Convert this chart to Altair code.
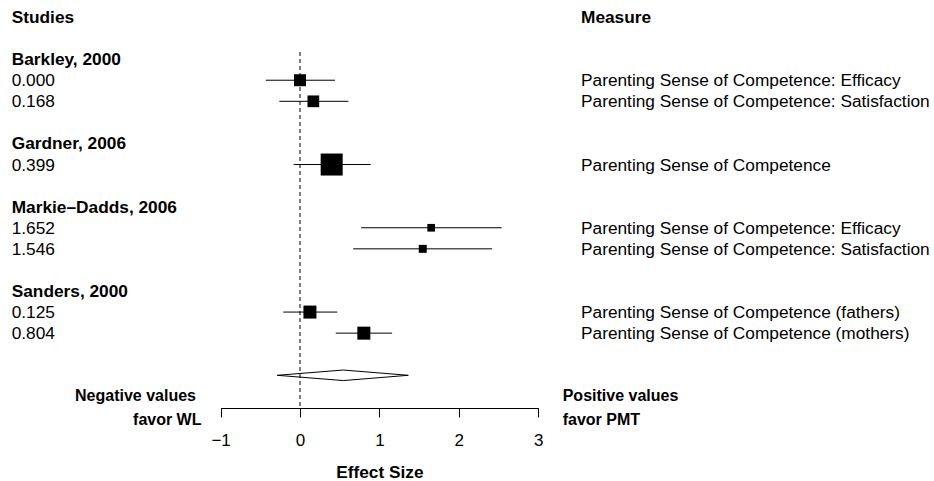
import altair as alt
import pandas as pd

FONT = "Liberation Sans, Arial, Helvetica, sans-serif"
FS = 17.3

# ---------------- data ----------------
study_names = ["Barkley, 2000", "Gardner, 2006", "Markie–Dadds, 2006", "Sanders, 2000"]
study_of_effect = [0, 0, 1, 2, 2, 3, 3]
effect_sizes = [0.000, 0.168, 0.399, 1.652, 1.546, 0.125, 0.804]
ci_lower = [-0.43, -0.26, -0.08, 0.77, 0.67, -0.21, 0.45]
ci_upper = [0.44, 0.61, 0.89, 2.54, 2.42, 0.47, 1.16]
weights = [11.7, 11.2, 39.5, 4.8, 5.2, 13.8, 13.8]
measures = [
    "Parenting Sense of Competence: Efficacy",
    "Parenting Sense of Competence: Satisfaction",
    "Parenting Sense of Competence",
    "Parenting Sense of Competence: Efficacy",
    "Parenting Sense of Competence: Satisfaction",
    "Parenting Sense of Competence (fathers)",
    "Parenting Sense of Competence (mothers)",
]
summary_es = 0.545
summary_lo = -0.286
summary_hi = 1.364
x_ticks = [-1, 0, 1, 2, 3]

# ---------------- row layout ----------------
row = 2
header_rows = []
effect_rows = [None] * len(effect_sizes)
for s, name in enumerate(study_names):
    header_rows.append(row)
    row += 1
    for i, st in enumerate(study_of_effect):
        if st == s:
            effect_rows[i] = row
            row += 1
    row += 1
summary_row = row

effects = pd.DataFrame({
    "es": effect_sizes,
    "lo": ci_lower,
    "hi": ci_upper,
    "w": weights,
    "measure": measures,
    "label": [f"{v:.3f}" for v in effect_sizes],
    "row": effect_rows,
})
headers = pd.DataFrame({"name": study_names, "row": header_rows})
diamond = pd.DataFrame({
    "x": [summary_lo, summary_es, summary_hi, summary_es, summary_lo],
    "row": [summary_row, summary_row - 0.25, summary_row, summary_row + 0.25, summary_row],
    "ord": [0, 1, 2, 3, 4],
})
col_heads = pd.DataFrame({"row": [0]})

# ---------------- scales / axes ----------------
xscale = alt.Scale(domain=[-1, 3], range=[220.6, 538.2], zero=False, nice=False)
yscale = alt.Scale(domain=[0, summary_row], range=[17, 375.3], zero=False, nice=False)
xaxis = alt.Axis(
    values=x_ticks, title="Effect Size", grid=False,
    domainColor="black", domainWidth=1, tickColor="black", tickWidth=1, tickSize=9,
    labelFont=FONT, labelFontSize=17, labelColor="black", labelBaseline="alphabetic",
    labelPadding=28.8, labelFlush=False, labelOverlap=False,
    titleFont=FONT, titleFontSize=FS, titleFontWeight="bold", titleColor="black",
    titleBaseline="alphabetic", titleY=69.9,
)


def X(field):
    return alt.X(field, type="quantitative", scale=xscale, axis=xaxis)


def Y(field="row"):
    return alt.Y(field, type="quantitative", scale=yscale, axis=None)


base_fx = alt.Chart(effects)

ci = base_fx.mark_rule(color="black", strokeWidth=1).encode(x=X("lo"), x2="hi", y=Y())
boxes = base_fx.mark_square(color="black", opacity=1, filled=True).encode(
    x=X("es"), y=Y(),
    size=alt.Size("w", type="quantitative",
                  scale=alt.Scale(domain=[0, 39.5], range=[0, 484]), legend=None),
)
zero_line = alt.Chart(col_heads).mark_rule(
    color="black", strokeWidth=1, strokeDash=[4, 3]
).encode(x=alt.X(datum=0, type="quantitative", scale=xscale, axis=xaxis),
         y=alt.value(52), y2=alt.value(408))

diam = alt.Chart(diamond).mark_line(color="black", strokeWidth=1).encode(
    x=X("x"), y=Y(), order="ord"
)

txt = dict(font=FONT, fontSize=FS, color="black", baseline="middle", dy=1)
txt_small = dict(font=FONT, fontSize=16, color="black", baseline="middle", dy=1)

studies_head = alt.Chart(col_heads).mark_text(align="left", fontWeight="bold", **txt).encode(
    x=alt.value(11.7), y=Y(), text=alt.value("Studies"))
measure_head = alt.Chart(col_heads).mark_text(align="left", fontWeight="bold", **txt).encode(
    x=alt.value(581), y=Y(), text=alt.value("Measure"))
study_lbl = alt.Chart(headers).mark_text(align="left", fontWeight="bold", **txt).encode(
    x=alt.value(11.7), y=Y(), text="name")
es_lbl = base_fx.mark_text(align="left", **txt).encode(
    x=alt.value(11.7), y=Y(), text="label")
meas_lbl = base_fx.mark_text(align="left", **txt).encode(
    x=alt.value(581), y=Y(), text="measure")

neg1 = alt.Chart(col_heads).mark_text(align="right", fontWeight="bold", **txt_small).encode(
    x=alt.value(196), y=alt.value(395), text=alt.value("Negative values"))
neg2 = alt.Chart(col_heads).mark_text(align="right", fontWeight="bold", **txt_small).encode(
    x=alt.value(201.5), y=alt.value(419), text=alt.value("favor WL"))
pos1 = alt.Chart(col_heads).mark_text(align="left", fontWeight="bold", **txt_small).encode(
    x=alt.value(562.7), y=alt.value(395), text=alt.value("Positive values"))
pos2 = alt.Chart(col_heads).mark_text(align="left", fontWeight="bold", **txt_small).encode(
    x=alt.value(562.7), y=alt.value(419), text=alt.value("favor PMT"))

chart = alt.layer(
    zero_line, ci, boxes, diam,
    studies_head, measure_head, study_lbl, es_lbl, meas_lbl,
    neg1, neg2, pos1, pos2,
).properties(
    width=934, height=408,
    autosize=alt.AutoSizeParams(type="none"),
    padding={"left": 0, "top": 0, "right": 0, "bottom": 73},
    background="white",
).configure_view(stroke=None)

chart.save("out.html", embed_options={"renderer": "svg", "actions": False})
